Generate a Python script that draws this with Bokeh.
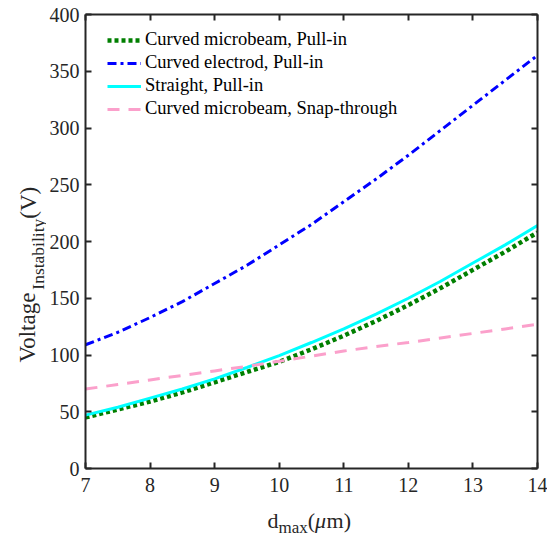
import math
from bokeh.plotting import figure
from bokeh.models import Range1d, LinearAxis, FixedTicker, Legend, LegendItem, Label
from bokeh.layouts import column, row
from bokeh.embed import file_html
from bokeh.resources import INLINE

# ---- data ----
d_max = [7, 7.5, 8, 8.5, 9, 9.5, 10, 10.5, 11, 11.5, 12, 12.5, 13, 13.5, 14]
curved_beam_pullin = [45, 52, 59, 67, 76, 85, 94, 105, 117, 130, 144, 159, 175, 191, 208]
curved_electrode_pullin = [109, 120, 133, 147, 163, 179, 197, 215, 235, 255, 276, 298, 320, 342, 364]
straight_pullin = [47, 54, 62, 70, 79, 89, 99.5, 111, 123, 136, 150, 165, 181, 197, 214]
curved_beam_snap = [70, 74, 78, 82, 86, 90, 94.5, 99, 103.5, 107.5, 111, 115, 119, 123, 127]

series_names = ["Curved microbeam, Pull-in", "Curved electrod, Pull-in",
                "Straight, Pull-in", "Curved microbeam, Snap-through"]
x_ticks = [7, 8, 9, 10, 11, 12, 13, 14]
y_ticks = [0, 50, 100, 150, 200, 250, 300, 350, 400]

FONT = "Liberation Serif"
AX = "#262626"

W, H = 547, 536
LEFT_STRIP = 46          # width of the strip holding the y title
BOTTOM_STRIP = 34        # height of the strip holding the x title
TOP = 14
FW, FH = 452, 454
MAIN_LEFT = 85 - LEFT_STRIP
MAIN_RIGHT = W - 85 - FW
MAIN_BOTTOM = H - TOP - FH - BOTTOM_STRIP
MAIN_H = H - BOTTOM_STRIP

p = figure(frame_width=FW, frame_height=FH,
           min_border_left=MAIN_LEFT, min_border_right=MAIN_RIGHT,
           min_border_top=TOP, min_border_bottom=MAIN_BOTTOM,
           x_range=Range1d(7, 14), y_range=Range1d(0, 400),
           output_backend="svg", toolbar_location=None,
           x_axis_location=None, y_axis_location=None)
p.grid.visible = False
p.outline_line_color = None
p.background_fill_color = "white"
p.border_fill_color = "white"

def make_axis(ticks, show_labels):
    ax = LinearAxis(ticker=FixedTicker(ticks=ticks))
    ax.major_tick_in = 6
    ax.major_tick_out = 0
    ax.minor_tick_line_color = None
    ax.axis_line_width = 2
    ax.axis_line_color = AX
    ax.major_tick_line_width = 2
    ax.major_tick_line_color = AX
    ax.major_label_text_font = FONT
    ax.major_label_text_font_size = "20px"
    ax.major_label_text_color = AX
    if not show_labels:
        ax.major_label_text_font_size = "0px"
        ax.major_label_text_alpha = 0
        ax.major_label_standoff = 0
    return ax

bx = make_axis(x_ticks, True); bx.major_label_standoff = 9
lx = make_axis(y_ticks, True); lx.major_label_standoff = 6
tx = make_axis(x_ticks, False)
rx = make_axis(y_ticks, False)
p.add_layout(bx, "below")
p.add_layout(lx, "left")
p.add_layout(tx, "above")
p.add_layout(rx, "right")

r_green = p.line(d_max, curved_beam_pullin, line_color="#007F00", line_width=4.5, line_dash="4 3")
r_blue = p.line(d_max, curved_electrode_pullin, line_color="#0000FF", line_width=3, line_dash="9 4 3 4")
r_cyan = p.line(d_max, straight_pullin, line_color="#00FFFF", line_width=3)
r_pink = p.line(d_max, curved_beam_snap, line_color="#FBA0CB", line_width=3, line_dash="12 9")

legend = Legend(items=[LegendItem(label=series_names[0], renderers=[r_green]),
                       LegendItem(label=series_names[1], renderers=[r_blue]),
                       LegendItem(label=series_names[2], renderers=[r_cyan]),
                       LegendItem(label=series_names[3], renderers=[r_pink])],
                location=(16, 343))
legend.label_text_font = FONT
legend.label_text_font_size = "18.5px"
legend.label_text_color = "black"
legend.glyph_width = 34
legend.glyph_height = 20
legend.label_height = 20
legend.spacing = 2
legend.label_standoff = 4
legend.padding = 6
legend.margin = 0
legend.border_line_alpha = 0
legend.background_fill_alpha = 0
p.add_layout(legend)

MAIN = 23
SUB = 17.5

def strip(w, h):
    f = figure(frame_width=w, frame_height=h,
               min_border_left=0, min_border_right=0, min_border_top=0, min_border_bottom=0,
               x_range=Range1d(0, w), y_range=Range1d(0, h),
               output_backend="svg", toolbar_location=None,
               x_axis_location=None, y_axis_location=None)
    f.grid.visible = False
    f.outline_line_color = None
    f.background_fill_color = "white"
    f.border_fill_color = "white"
    return f

def lab(fig, x, y, text, size, angle=0.0, style="normal"):
    fig.add_layout(Label(x=x, y=y, text=text, text_font=FONT, text_font_size=f"{size}px",
                         text_font_style=style, text_color=AX, angle=angle,
                         text_baseline="alphabetic", text_align="left"))

# ---- y title strip: Voltage_Instability(V), rotated ----
ly = strip(LEFT_STRIP, MAIN_H)
ang = math.pi / 2
def sy(py):  # page pixel row -> strip data y
    return MAIN_H - py
y0 = 348
lab(ly, 27, sy(y0), "Voltage", MAIN, ang)
y1 = y0 - 3.166 * MAIN
lab(ly, 37, sy(y1), "Instability", SUB, ang)
y2 = y1 - 4.056 * SUB
lab(ly, 28, sy(y2), "(V)", MAIN, ang)

# ---- x title strip: d_max(μm) ----
lxs = strip(W, BOTTOM_STRIP)
def sx_y(py):
    return H - py
MX = 22
SX = 17
x0 = 267
lab(lxs, x0, sx_y(520), "d", MX)
x1 = x0 + 0.5 * MX
lab(lxs, x1, sx_y(527), "max", SX)
x2 = x1 + 1.722 * SX
lab(lxs, x2, sx_y(520), "(", MX)
x3 = x2 + 0.333 * MX
lab(lxs, x3, sx_y(520), "\u03bc", MX, style="italic")
x4 = x3 + 0.52 * MX
lab(lxs, x4, sx_y(520), "m)", MX)

layout = column(row(ly, p, spacing=0), lxs, spacing=0)
open("out.html", "w").write(file_html(layout, INLINE))
